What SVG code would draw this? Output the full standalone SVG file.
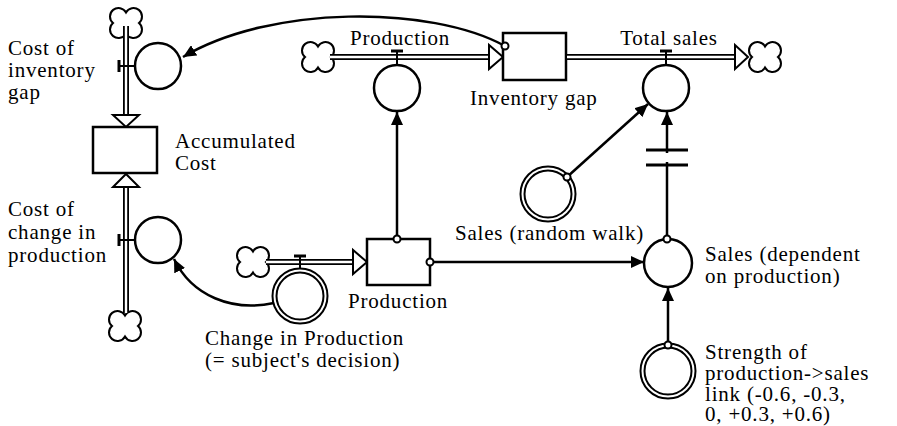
<svg xmlns="http://www.w3.org/2000/svg" width="897" height="426" viewBox="0 0 897 426">
<style>
text{font-family:'Liberation Serif','Times New Roman','DejaVu Serif',serif;font-size:21px;letter-spacing:0.8px;fill:#000}
.po{stroke:#000;stroke-width:6;fill:none}
.pi{stroke:#fff;stroke-width:2.4;fill:none}
.stock{fill:#fff;stroke:#000;stroke-width:2.5}
.conv{fill:#fff;stroke:#000;stroke-width:2.5}
.dbl{fill:#fff;stroke:#000;stroke-width:6}
.dbli{fill:none;stroke:#fff;stroke-width:2}
.cloud{fill:#fff;stroke:#000;stroke-width:2}
.head{fill:#fff;stroke:#000;stroke-width:2;stroke-linejoin:miter}
.valve{stroke:#000;stroke-width:2;fill:none}
.bar{stroke:#000;stroke-width:3;fill:none}
.link{stroke:#000;stroke-width:2.5;fill:none;marker-end:url(#arr)}
.dot{fill:#fff;stroke:#000;stroke-width:2}
</style>
<defs>
<marker id="arr" markerUnits="userSpaceOnUse" markerWidth="14" markerHeight="12" refX="13" refY="6" orient="auto"><path d="M0,0 L13,6 L0,12 Z" fill="#000"/></marker>
<path id="cloud" class="cloud" d="M0,-10.5 A8.5,8.5 0 1 1 12.98,0 A8.5,8.5 0 1 1 0,10.5 A8.5,8.5 0 1 1 -12.98,0 A8.5,8.5 0 1 1 0,-10.5 Z"/>
</defs>
<rect width="897" height="426" fill="#fff"/>

<g id="cost-of-inventory-gap">
<use href="#cloud" x="126" y="23"/>
<line class="po" x1="126" y1="26" x2="126" y2="115"/>
<line class="pi" x1="126" y1="26" x2="126" y2="116"/>
<polygon class="head" points="113,115 139,115 126,127"/>
<line class="valve" x1="119" y1="66" x2="135" y2="66"/>
<line class="bar" x1="119" y1="60" x2="119" y2="72"/>
<circle class="conv" cx="158" cy="66" r="23"/>
<text font-family="Liberation Serif, serif" x="8" y="55">Cost of</text>
<text font-family="Liberation Serif, serif" x="8" y="77">inventory</text>
<text font-family="Liberation Serif, serif" x="8" y="99">gap</text>
</g>

<g id="accumulated-cost">
<rect class="stock" x="93" y="127" width="64" height="46"/>
<text font-family="Liberation Serif, serif" x="175" y="148">Accumulated</text>
<text font-family="Liberation Serif, serif" x="175" y="170">Cost</text>
</g>

<g id="cost-of-change-in-production">
<use href="#cloud" x="125" y="326"/>
<line class="po" x1="126" y1="313" x2="126" y2="187"/>
<line class="pi" x1="126" y1="313" x2="126" y2="186"/>
<polygon class="head" points="113,187 139,187 126,174"/>
<line class="valve" x1="119" y1="240" x2="135" y2="240"/>
<line class="bar" x1="119" y1="234" x2="119" y2="246"/>
<circle class="conv" cx="158" cy="240" r="23"/>
<text font-family="Liberation Serif, serif" x="8" y="216">Cost of</text>
<text font-family="Liberation Serif, serif" x="8" y="239">change in</text>
<text font-family="Liberation Serif, serif" x="8" y="262">production</text>
</g>

<g id="production-flow">
<use href="#cloud" x="318" y="57"/>
<line class="po" x1="330" y1="57" x2="489" y2="57"/>
<line class="pi" x1="330" y1="57" x2="490" y2="57"/>
<polygon class="head" points="489,45 489,69 503,57"/>
<line class="valve" x1="397" y1="51" x2="397" y2="65"/>
<line class="bar" x1="391" y1="51" x2="403" y2="51"/>
<circle class="conv" cx="397" cy="88" r="23"/>
<text font-family="Liberation Serif, serif" x="400" y="45" text-anchor="middle">Production</text>
</g>

<g id="inventory-gap">
<rect class="stock" x="503" y="33" width="63" height="47"/>
<text font-family="Liberation Serif, serif" x="470" y="105">Inventory gap</text>
</g>

<g id="total-sales">
<line class="po" x1="566" y1="57" x2="735" y2="57"/>
<line class="pi" x1="567" y1="57" x2="736" y2="57"/>
<polygon class="head" points="735,45 735,69 748,57"/>
<use href="#cloud" x="765" y="57"/>
<line class="valve" x1="666" y1="51" x2="666" y2="65"/>
<line class="bar" x1="660" y1="51" x2="672" y2="51"/>
<circle class="conv" cx="666" cy="88" r="23"/>
<text font-family="Liberation Serif, serif" x="669" y="45" text-anchor="middle">Total sales</text>
</g>

<g id="sales-random-walk">
<circle class="dbl" cx="548" cy="194" r="25.5"/>
<circle class="dbli" cx="548" cy="194" r="25.5"/>
<text font-family="Liberation Serif, serif" x="455" y="240">Sales (random walk)</text>
</g>

<g id="sales-dependent">
<circle class="conv" cx="668" cy="263" r="24"/>
<text font-family="Liberation Serif, serif" x="705" y="261">Sales (dependent</text>
<text font-family="Liberation Serif, serif" x="705" y="283">on production)</text>
</g>

<g id="strength">
<circle class="dbl" cx="668" cy="371" r="25.5"/>
<circle class="dbli" cx="668" cy="371" r="25.5"/>
<text font-family="Liberation Serif, serif" x="705" y="359">Strength of</text>
<text font-family="Liberation Serif, serif" x="705" y="380">production-&gt;sales</text>
<text font-family="Liberation Serif, serif" x="705" y="401">link (-0.6, -0.3,</text>
<text font-family="Liberation Serif, serif" x="705" y="421">0, +0.3, +0.6)</text>
</g>

<g id="production-stock">
<use href="#cloud" x="253" y="262"/>
<line class="po" x1="266" y1="262" x2="353" y2="262"/>
<line class="pi" x1="266" y1="262" x2="354" y2="262"/>
<polygon class="head" points="353,250 353,274 367,262"/>
<rect class="stock" x="367" y="239" width="63" height="46"/>
<text font-family="Liberation Serif, serif" x="348" y="308">Production</text>
</g>

<g id="change-in-production">
<line class="valve" x1="300" y1="256" x2="300" y2="270"/>
<line class="bar" x1="294" y1="256" x2="306" y2="256"/>
<circle class="dbl" cx="300" cy="296" r="25.5"/>
<circle class="dbli" cx="300" cy="296" r="25.5"/>
<text font-family="Liberation Serif, serif" x="205" y="345">Change in Production</text>
<text font-family="Liberation Serif, serif" x="205" y="367">(= subject's decision)</text>
</g>

<g id="connectors">
<path class="link" d="M505,46 C430,5 270,5 183,57"/>
<circle class="dot" cx="505" cy="46" r="3.5"/>
<line class="link" x1="397" y1="239" x2="397" y2="112"/>
<circle class="dot" cx="397" cy="239" r="3.5"/>
<line class="link" x1="430" y1="262" x2="644" y2="262"/>
<circle class="dot" cx="430" cy="262" r="3.5"/>
<line class="link" x1="567" y1="177" x2="648" y2="104"/>
<circle class="dot" cx="567" cy="177" r="3.5"/>
<line class="link" x1="667" y1="239" x2="667" y2="112"/>
<line class="bar" x1="646" y1="150" x2="688" y2="150" stroke-width="4"/>
<line class="bar" x1="646" y1="165" x2="688" y2="165" stroke-width="4"/>
<rect x="646" y="153" width="42" height="9" fill="#fff"/>
<circle class="dot" cx="667" cy="239" r="3.5"/>
<line class="link" x1="668" y1="345" x2="668" y2="288"/>
<circle class="dot" cx="668" cy="345" r="3.5"/>
<path class="link" d="M274,303 C232,312 192,296 174,259"/>
</g>
</svg>
